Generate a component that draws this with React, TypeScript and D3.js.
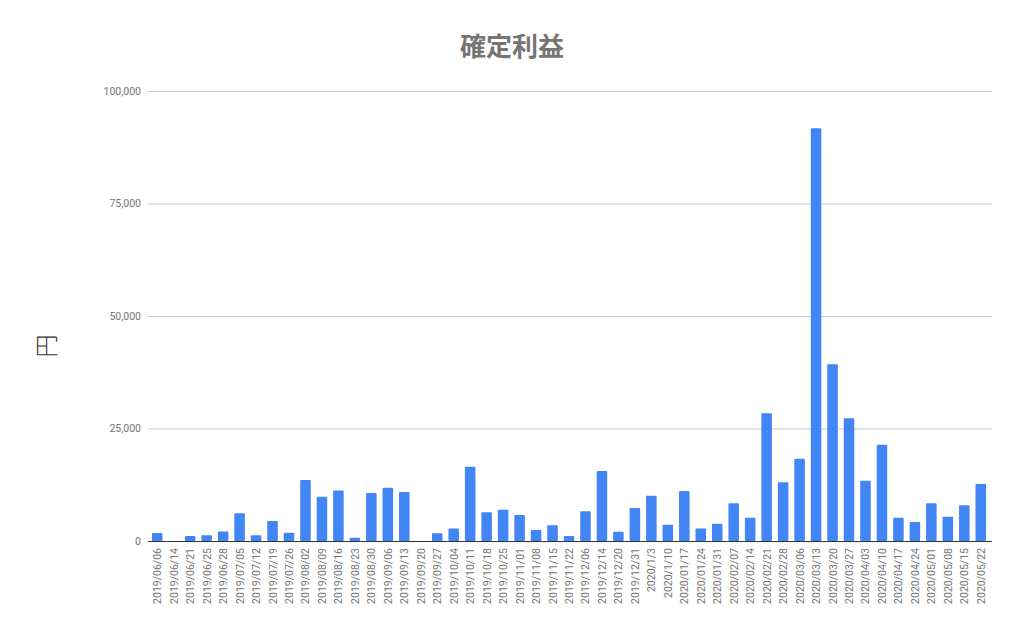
import { useEffect, useRef } from "react";
import * as d3 from "d3";

const dates = [
  "2019/06/06", "2019/06/14", "2019/06/21", "2019/06/25", "2019/06/28",
  "2019/07/05", "2019/07/12", "2019/07/19", "2019/07/26",
  "2019/08/02", "2019/08/09", "2019/08/16", "2019/08/23", "2019/08/30",
  "2019/09/06", "2019/09/13", "2019/09/20", "2019/09/27",
  "2019/10/04", "2019/10/11", "2019/10/18", "2019/10/25",
  "2019/11/01", "2019/11/08", "2019/11/15", "2019/11/22",
  "2019/12/06", "2019/12/14", "2019/12/20", "2019/12/31",
  "2020/1/3", "2020/1/10", "2020/01/17", "2020/01/24", "2020/01/31",
  "2020/02/07", "2020/02/14", "2020/02/21", "2020/02/28",
  "2020/03/06", "2020/03/13", "2020/03/20", "2020/03/27",
  "2020/04/03", "2020/04/10", "2020/04/17", "2020/04/24",
  "2020/05/01", "2020/05/08", "2020/05/15", "2020/05/22",
];

// 円
const profit = [
  1800, 0, 1100, 1300, 2100,
  6150, 1300, 4450, 1850,
  13550, 9850, 11250, 730, 10650,
  11850, 10900, 0, 1700,
  2800, 16500, 6370, 6950,
  5780, 2450, 3480, 1100,
  6600, 15550, 2070, 7330,
  10070, 3630, 11100, 2800, 3850,
  8370, 5180, 28370, 13040,
  18300, 91700, 39260, 27260,
  13400, 21400, 5180, 4220,
  8370, 5400, 7930, 12670,
];

const yTicks = [0, 25000, 50000, 75000, 100000];

const title = "確定利益";
const yLabel = "円";

export default function App() {
  const svgRef = useRef<SVGSVGElement | null>(null);

  const width = 1024;
  const height = 636;
  const margin = { top: 91, right: 32, bottom: 95, left: 148 };

  useEffect(() => {
    const svg = d3.select(svgRef.current);
    svg.selectAll("*").remove();

    const x = d3.scaleBand()
      .domain(dates)
      .range([margin.left + 1, width - margin.right - 3])
      .paddingInner(0.36)
      .paddingOuter(0.18);

    const y = d3.scaleLinear()
      .domain([0, 100000])
      .range([height - margin.bottom, margin.top]);

    svg.append("rect")
      .attr("width", width)
      .attr("height", height)
      .attr("fill", "white");

    // grid
    svg.append("g")
      .selectAll("line")
      .data(yTicks.slice(1))
      .join("line")
      .attr("x1", margin.left)
      .attr("x2", width - margin.right)
      .attr("y1", (d) => y(d) + 0.5)
      .attr("y2", (d) => y(d) + 0.5)
      .attr("stroke", "#cccccc")
      .attr("stroke-width", 1);

    svg.append("g")
      .selectAll("text")
      .data(yTicks)
      .join("text")
      .attr("x", margin.left - 7)
      .attr("y", (d) => y(d))
      .attr("dy", "0.35em")
      .attr("text-anchor", "end")
      .style("font-family", "Roboto, sans-serif")
      .style("font-size", "10.5px")
      .style("fill", "#757575")
      .text((d) => d3.format(",")(d));

    svg.append("g")
      .selectAll("rect")
      .data(profit)
      .join("rect")
      .attr("x", (_, i) => x(dates[i]) as number)
      .attr("width", x.bandwidth())
      .attr("y", (d) => y(d))
      .attr("height", (d) => y(0) - y(d))
      .attr("rx", 1)
      .attr("fill", "#4285f4");

    // baseline
    svg.append("line")
      .attr("x1", margin.left)
      .attr("x2", width - margin.right)
      .attr("y1", y(0) + 0.5)
      .attr("y2", y(0) + 0.5)
      .attr("stroke", "#333333")
      .attr("stroke-width", 1);

    svg.append("g")
      .selectAll("text")
      .data(dates)
      .join("text")
      .attr("transform", (d) => `translate(${(x(d) as number) + x.bandwidth() / 2 + 4},${y(0) + 7}) rotate(-90)`)
      .attr("text-anchor", "end")
      .style("font-family", "Roboto, sans-serif")
      .style("font-size", "10.5px")
      .style("fill", "#757575")
      .text((d) => d);

    svg.append("text")
      .attr("x", 512)
      .attr("y", 56)
      .attr("text-anchor", "middle")
      .style("font-family", "'Noto Sans CJK JP', sans-serif")
      .style("font-size", "26px")
      .style("font-weight", "bold")
      .style("fill", "#757575")
      .text(title);

    svg.append("text")
      .attr("transform", `translate(55,${y(50000) + 30}) rotate(-90)`)
      .attr("text-anchor", "middle")
      .style("font-family", "'Noto Sans CJK JP', sans-serif")
      .style("font-size", "23px")
      .style("fill", "#333333")
      .style("font-weight", "300")
      .text(yLabel);
  }, []);

  return (
    <svg
      ref={svgRef}
      width={width}
      height={height}
      style={{ position: "absolute", left: 0, top: 0, display: "block" }}
    />
  );
}
